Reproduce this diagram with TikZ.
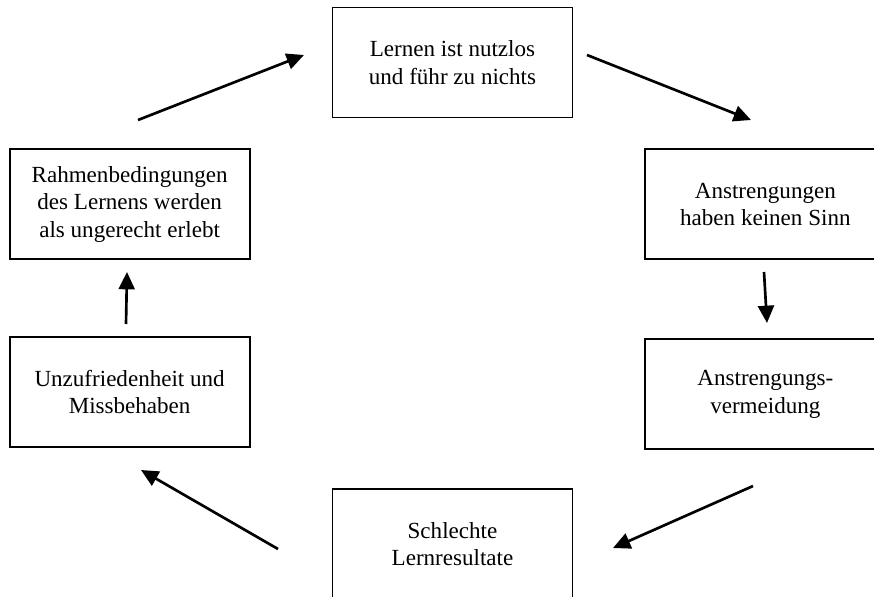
\documentclass[tikz,border=0pt]{standalone}
\usepackage{fontspec}
\setmainfont{Liberation Serif}
\usetikzlibrary{arrows.meta,positioning}

\begin{document}
\begin{tikzpicture}[x=0.75pt, y=-0.75pt,
  box/.style={draw=black, line width=1.4pt, minimum width=180pt, minimum height=82.5pt,
    align=center, inner sep=2pt, font=\fontsize{17.3}{20.5}\selectfont},
  pfeil/.style={-{Triangle[length=13pt, width=12pt]}, line width=2pt}]
  \useasboundingbox (0,0) rectangle (874,596);
  \clip (0,0) rectangle (874,596);

  % Kreislauf
  \node[box] (nutzlos) at (452.5,62.5) {Lernen ist nutzlos\\und führ zu nichts};
  \node[box, below right=22.5pt and 53.25pt of nutzlos] (sinn) {Anstrengungen\\haben keinen Sinn};
  \node[box, below=58.5pt of sinn] (vermeidung) {Anstrengungs-\\vermeidung};
  \node[box, below=277.5pt of nutzlos] (resultate) {Schlechte\\Lernresultate};
  \node[box, below left=22.5pt and 60.75pt of nutzlos] (rahmen) {Rahmenbedingungen\\des Lernens werden\\als ungerecht erlebt};
  \node[box, below=57pt of rahmen] (unzufrieden) {Unzufriedenheit und\\Missbehaben};

  % Pfeile (frei zwischen den Kaesten)
  \coordinate (rahmen-nutzlos-a) at (138,120);
  \coordinate (rahmen-nutzlos-b) at (304,55);
  \coordinate (nutzlos-sinn-a) at (587,55);
  \coordinate (nutzlos-sinn-b) at (751,120);
  \coordinate (sinn-vermeidung-a) at (764,272);
  \coordinate (sinn-vermeidung-b) at (767,323);
  \coordinate (vermeidung-resultate-a) at (753,486);
  \coordinate (vermeidung-resultate-b) at (613,548);
  \coordinate (resultate-unzufrieden-a) at (278,549);
  \coordinate (resultate-unzufrieden-b) at (141,470);
  \coordinate (unzufrieden-rahmen-a) at (126,324);
  \coordinate (unzufrieden-rahmen-b) at (127,272);

  \draw[pfeil] (rahmen-nutzlos-a) -- (rahmen-nutzlos-b);
  \draw[pfeil] (nutzlos-sinn-a) -- (nutzlos-sinn-b);
  \draw[pfeil] (sinn-vermeidung-a) -- (sinn-vermeidung-b);
  \draw[pfeil] (vermeidung-resultate-a) -- (vermeidung-resultate-b);
  \draw[pfeil] (resultate-unzufrieden-a) -- (resultate-unzufrieden-b);
  \draw[pfeil] (unzufrieden-rahmen-a) -- (unzufrieden-rahmen-b);
\end{tikzpicture}
\end{document}
